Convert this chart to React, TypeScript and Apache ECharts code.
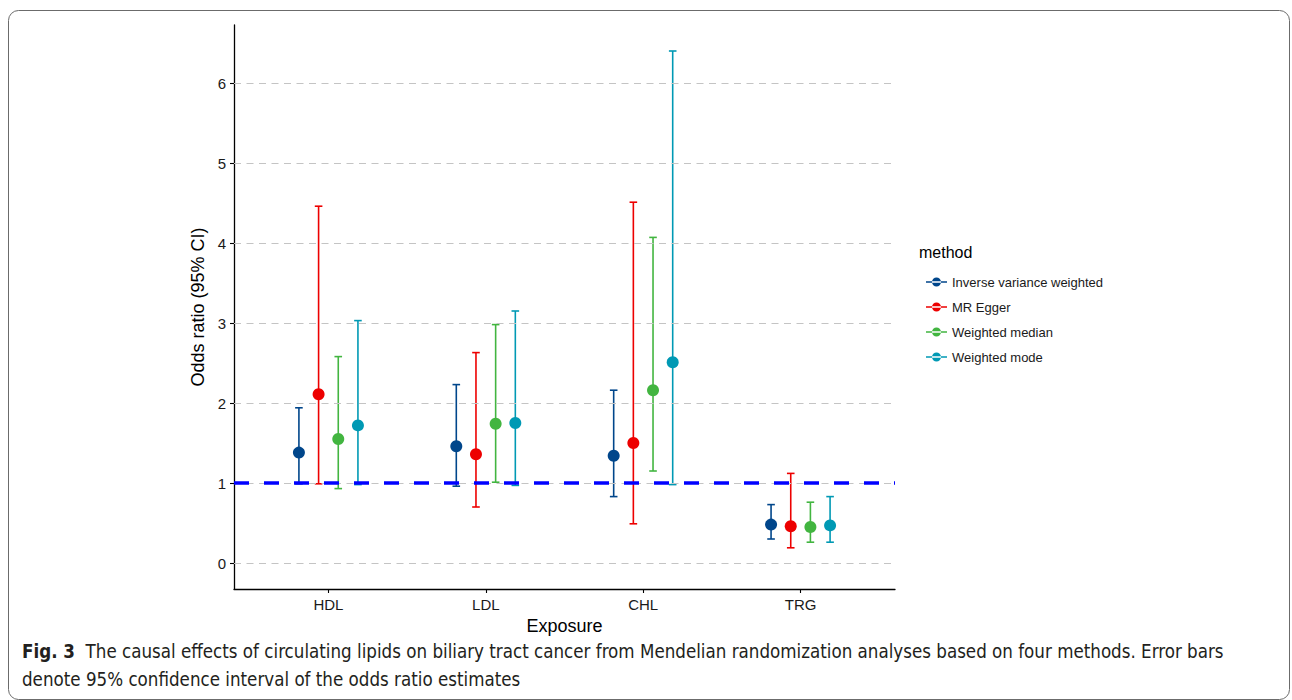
import React, { useEffect, useRef } from "react";
import * as echarts from "echarts";

const exposures = ["HDL", "LDL", "CHL", "TRG"];
const methods = ["Inverse variance weighted", "MR Egger", "Weighted median", "Weighted mode"];
const methodColors = ["#00468B", "#ED0000", "#42B540", "#0099B4"];

const orIVW = [1.38, 1.46, 1.34, 0.48];
const lowIVW = [0.99, 0.96, 0.83, 0.30];
const highIVW = [1.94, 2.23, 2.16, 0.73];

const orEgger = [2.11, 1.36, 1.50, 0.46];
const lowEgger = [0.99, 0.70, 0.49, 0.19];
const highEgger = [4.46, 2.63, 4.51, 1.12];

const orMedian = [1.55, 1.74, 2.16, 0.45];
const lowMedian = [0.93, 1.01, 1.15, 0.26];
const highMedian = [2.58, 2.98, 4.07, 0.76];

const orMode = [1.72, 1.75, 2.51, 0.47];
const lowMode = [0.98, 0.97, 0.98, 0.26];
const highMode = [3.03, 3.15, 6.40, 0.83];

const yTicks = [0, 1, 2, 3, 4, 5, 6];
const nullOR = 1;

const captionBold = "Fig. 3";
const captionLine1 =
  "The causal effects of circulating lipids on biliary tract cancer from Mendelian randomization analyses based on four methods. Error bars";
const captionLine2 = "denote 95% confidence interval of the odds ratio estimates";

const estimates = [orIVW, orEgger, orMedian, orMode];
const lows = [lowIVW, lowEgger, lowMedian, lowMode];
const highs = [highIVW, highEgger, highMedian, highMode];

const FONT = "'Liberation Sans', Arial, sans-serif";
const CAPTION_FONT = "'Liberation Sans Narrow', 'DejaVu Sans Condensed', 'Liberation Sans', sans-serif";

export default function App() {
  const ref = useRef<HTMLDivElement>(null);

  useEffect(() => {
    if (!ref.current) return;
    const chart = echarts.init(ref.current, null, { renderer: "svg" });
    const dodgeWidth = 0.5;
    const n = methods.length;
    const offsets = methods.map((_, m) => -dodgeWidth / 2 + dodgeWidth / n * (m + 0.5));

    const series: any[] = [];

    // gridlines
    series.push({
      type: "scatter",
      name: "__grid",
      data: [],
      z: 0,
      silent: true,
      markLine: {
        silent: true,
        symbol: "none",
        label: { show: false },
        lineStyle: { color: "#C4C4C4", width: 1.2, type: [7, 5.5] },
        data: yTicks.map((v) => ({ yAxis: v })),
      },
    });

    methods.forEach((name, m) => {
      const color = methodColors[m];
      series.push({
        type: "scatter",
        name,
        z: 5,
        symbol: "circle",
        symbolSize: 12,
        itemStyle: { color, opacity: 1 },
        data: exposures.map((_, i) => [i + 1 + offsets[m], estimates[m][i]]),
      });
    });

    methods.forEach((name, m) => {
      const color = methodColors[m];
      series.push({
        type: "custom",
        name,
        z: 2,
        itemStyle: { color },
        data: exposures.map((_, i) => [i + 1 + offsets[m], lows[m][i], highs[m][i]]),
        renderItem: (params: any, api: any) => {
          const x = api.value(0);
          const top = api.coord([x, api.value(2)]);
          const bot = api.coord([x, api.value(1)]);
          const hw = 3.8;
          const style = { stroke: color, lineWidth: 1.6, fill: "none" };
          return {
            type: "group",
            children: [
              { type: "line", shape: { x1: top[0], y1: top[1], x2: bot[0], y2: bot[1] }, style },
              { type: "line", shape: { x1: top[0] - hw, y1: top[1], x2: top[0] + hw, y2: top[1] }, style },
              { type: "line", shape: { x1: bot[0] - hw, y1: bot[1], x2: bot[0] + hw, y2: bot[1] }, style },
            ],
          };
        },
      });
    });

    // reference line
    series.push({
      type: "scatter",
      name: "__ref",
      data: [],
      z: 3,
      silent: true,
      markLine: {
        silent: true,
        symbol: "none",
        label: { show: false },
        lineStyle: { color: "#0000FF", width: 3.6, type: [15, 15] },
        data: [{ yAxis: nullOR }],
      },
    });

    const legendIcon =
      "path://M0,3.8L21,3.8L21,5.2L0,5.2Z M6,4.5A4.5,4.5 0 1 0 15,4.5A4.5,4.5 0 1 0 6,4.5Z";

    chart.setOption({
      animation: false,
      backgroundColor: "#ffffff",
      textStyle: { fontFamily: FONT },
      grid: { left: 234, right: 397, top: 25, bottom: 111, containLabel: false },
      xAxis: {
        type: "value",
        min: 0.4,
        max: 4.6,
        name: "Exposure",
        nameLocation: "middle",
        nameGap: 25,
        nameTextStyle: { fontSize: 18, color: "#000", fontFamily: FONT },
        axisLine: { show: true, onZero: false, lineStyle: { color: "#000", width: 1.3 } },
        axisTick: { show: true, customValues: [1, 2, 3, 4], length: 4, lineStyle: { color: "#000", width: 1.1 } },
        axisLabel: {
          customValues: [1, 2, 3, 4],
          formatter: (v: number) => exposures[Math.round(v) - 1] ?? "",
          fontSize: 15,
          color: "#1a1a1a",
          margin: 8,
          fontFamily: FONT,
        },
        splitLine: { show: false },
      },
      yAxis: {
        type: "value",
        min: -0.325,
        max: 6.725,
        name: "Odds ratio (95% CI)",
        nameLocation: "middle",
        nameGap: 21,
        nameTextStyle: { fontSize: 18, color: "#000", fontFamily: FONT },
        axisLine: { show: true, onZero: false, lineStyle: { color: "#000", width: 1.3 } },
        axisTick: { show: true, customValues: yTicks, length: 4, lineStyle: { color: "#000", width: 1.1 } },
        axisLabel: {
          customValues: yTicks,
          formatter: (v: number) => String(v),
          fontSize: 15,
          color: "#1a1a1a",
          margin: 8,
          fontFamily: FONT,
        },
        splitLine: { show: false },
      },
      legend: {
        orient: "vertical",
        left: 921,
        top: 269,
        itemWidth: 21,
        itemHeight: 9,
        itemGap: 9,
        selectedMode: false,
        data: methods.map((name) => ({ name, icon: legendIcon })),
        textStyle: { fontSize: 13, color: "#1a1a1a", lineHeight: 16, fontFamily: FONT },
      },
      graphic: [
        {
          type: "rect",
          silent: true,
          shape: { x: 8.5, y: 10.5, width: 1281, height: 689, r: 10 },
          style: { fill: "none", stroke: "#6b6b6b", lineWidth: 1 },
          z: -1,
        },
        {
          type: "text",
          left: 919,
          top: 244,
          style: { text: "method", font: `16px ${FONT}`, fill: "#000" },
        },
        {
          type: "text",
          left: 22,
          top: 642,
          style: {
            text: `{b|${captionBold}}  ${captionLine1}`,
            font: `18.6px ${CAPTION_FONT}`,
            fill: "#231F20",
            rich: { b: { fontWeight: "bold", fontSize: 18.6, fontFamily: CAPTION_FONT, fill: "#231F20" } },
          },
        },
        {
          type: "text",
          left: 22,
          top: 670,
          style: { text: captionLine2, font: `18.6px ${CAPTION_FONT}`, fill: "#231F20" },
        },
      ],
      series,
    });

    return () => chart.dispose();
  }, []);

  return (
    <div
      ref={ref}
      style={{ position: "fixed", left: 0, top: 0, width: 1292, height: 700, background: "#fff" }}
    />
  );
}
